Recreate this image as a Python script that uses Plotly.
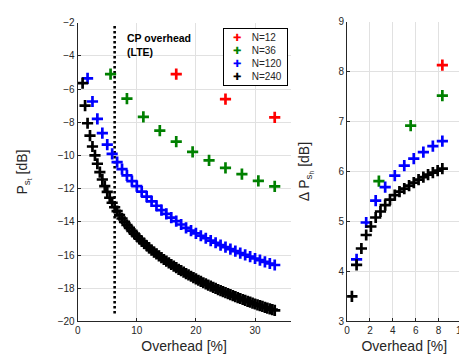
import plotly.graph_objects as go

# ---------------- Left panel data (P_s_t vs overhead) ----------------
x_n12 = [16.67, 25.0, 33.33]
y_n12 = [-5.1, -6.61, -7.71]

x_n36 = [5.56, 8.33, 11.11, 13.89, 16.67, 19.44, 22.22, 25.0, 27.78, 30.56, 33.33]
y_n36 = [-5.1, -6.57, -7.68, -8.5, -9.17, -9.78, -10.3, -10.75, -11.12, -11.53, -11.86]

x_n120 = [1.67, 2.5, 3.33, 4.17, 5.0, 5.83, 6.67, 7.5, 8.33, 9.17,
          10.0, 10.83, 11.67, 12.5, 13.33, 14.17, 15.0, 15.83, 16.67, 17.5,
          18.33, 19.17, 20.0, 20.83, 21.67, 22.5, 23.33, 24.17, 25.0, 25.83,
          26.67, 27.5, 28.33, 29.17, 30.0, 30.83, 31.67, 32.5, 33.33]
y_n120 = [-5.35, -6.75, -7.8, -8.65, -9.35, -9.9, -10.4, -10.82, -11.2, -11.55,
          -11.85, -12.18, -12.48, -12.77, -13.03, -13.29, -13.52, -13.75, -13.96, -14.16,
          -14.36, -14.53, -14.69, -14.84, -14.99, -15.13, -15.26, -15.40, -15.52, -15.65,
          -15.77, -15.88, -15.99, -16.10, -16.21, -16.31, -16.41, -16.51, -16.60]

x_n240 = [0.83, 1.25, 1.67, 2.08, 2.5, 2.92, 3.33, 3.75, 4.17, 4.58,
          5.0, 5.42, 5.83, 6.25, 6.67, 7.08, 7.5, 7.92, 8.33, 8.75,
          9.17, 9.58, 10.0, 10.42, 10.83, 11.25, 11.67, 12.08, 12.5, 12.92,
          13.33, 13.75, 14.17, 14.58, 15.0, 15.42, 15.83, 16.25, 16.67, 17.08,
          17.5, 17.92, 18.33, 18.75, 19.17, 19.58, 20.0, 20.42, 20.83, 21.25,
          21.67, 22.08, 22.5, 22.92, 23.33, 23.75, 24.17, 24.58, 25.0, 25.42,
          25.83, 26.25, 26.67, 27.08, 27.5, 27.92, 28.33, 28.75, 29.17, 29.58,
          30.0, 30.42, 30.83, 31.25, 31.67, 32.08, 32.5, 32.92, 33.33]
y_n240 = [-5.64, -7.0, -8.06, -8.8, -9.46, -10.0, -10.5, -11.0, -11.45, -11.85,
          -12.2, -12.55, -12.85, -13.12, -13.36, -13.59, -13.80, -14.00, -14.19, -14.37,
          -14.54, -14.71, -14.87, -15.02, -15.16, -15.30, -15.44, -15.57, -15.70, -15.82,
          -15.93, -16.05, -16.16, -16.27, -16.37, -16.47, -16.57, -16.67, -16.76, -16.86,
          -16.94, -17.03, -17.12, -17.20, -17.28, -17.36, -17.44, -17.52, -17.59, -17.67,
          -17.74, -17.81, -17.88, -17.95, -18.01, -18.08, -18.14, -18.21, -18.27, -18.33,
          -18.39, -18.45, -18.51, -18.57, -18.62, -18.68, -18.73, -18.79, -18.84, -18.90,
          -18.95, -19.00, -19.05, -19.10, -19.15, -19.20, -19.24, -19.29, -19.34]

# ---------------- Right panel data (Delta P_s_h vs overhead) ----------------
dx_n12 = [8.33]
dy_n12 = [8.13]
dx_n36 = [2.78, 5.56, 8.33]
dy_n36 = [5.81, 6.92, 7.52]
dx_n120 = [0.83, 1.67, 2.5, 3.33, 4.17, 5.0, 5.83, 6.67, 7.5, 8.33]
dy_n120 = [4.24, 4.98, 5.42, 5.69, 5.92, 6.12, 6.26, 6.39, 6.51, 6.61]
dx_n240 = [0.42, 0.83, 1.25, 1.67, 2.08, 2.5, 2.92, 3.33, 3.75, 4.17,
           4.58, 5.0, 5.42, 5.83, 6.25, 6.67, 7.08, 7.5, 7.92, 8.33]
dy_n240 = [3.5, 4.13, 4.46, 4.73, 4.90, 5.08, 5.2, 5.33, 5.44, 5.53,
           5.6, 5.66, 5.72, 5.78, 5.84, 5.89, 5.94, 5.98, 6.02, 6.06]

# LTE CP overhead marker
cp_x = [6.25, 6.25]
cp_y = [-2.2, -19.6]

series_names = ["N=12", "N=36", "N=120", "N=240"]
series_colors = ["#ff0000", "#008000", "#0000ff", "#000000"]

left_x = [x_n12, x_n36, x_n120, x_n240]
left_y = [y_n12, y_n36, y_n120, y_n240]
right_x = [dx_n12, dx_n36, dx_n120, dx_n240]
right_y = [dy_n12, dy_n36, dy_n120, dy_n240]

FONT = "Liberation Sans, Arial, Helvetica, sans-serif"
AX = "#262626"
GRID = "#e1e1e1"

fig = go.Figure()

fig.add_trace(go.Scatter(x=cp_x, y=cp_y, mode="lines",
                         line=dict(color="black", width=2.6, dash="2.5px,2.5px"),
                         showlegend=False, xaxis="x", yaxis="y"))

for name, col, xs, ys in zip(series_names, series_colors, left_x, left_y):
    fig.add_trace(go.Scatter(x=xs, y=ys, mode="markers", name=name,
                             marker=dict(symbol="cross-thin", size=8,
                                         line=dict(color=col, width=2.7)),
                             showlegend=False, xaxis="x", yaxis="y"))

for name, col, xs, ys in zip(series_names, series_colors, right_x, right_y):
    fig.add_trace(go.Scatter(x=xs, y=ys, mode="markers", name=name,
                             marker=dict(symbol="cross-thin", size=8,
                                         line=dict(color=col, width=2.7)),
                             showlegend=False, xaxis="x2", yaxis="y2"))

axis_common = dict(showline=True, linecolor=AX, linewidth=1, mirror=False,
                   showgrid=True, gridcolor=GRID, gridwidth=1, zeroline=False,
                   ticks="inside", ticklen=3, tickcolor=AX,
                   tickfont=dict(family=FONT, size=10, color=AX),
                   title_font=dict(family=FONT, size=14, color=AX))

legend_text = "<br>".join(
    f"&nbsp;&nbsp;<span style='color:{c}'>✚</span>&nbsp;&nbsp;&nbsp;&nbsp;{n}&nbsp;"
    for n, c in zip(series_names, series_colors))

fig.update_layout(
    width=467, height=360,
    margin=dict(l=0, r=0, t=0, b=0),
    paper_bgcolor="white", plot_bgcolor="white",
    font=dict(family=FONT, color=AX),
    xaxis=dict(domain=[68 / 467, 285 / 467], range=[0, 36], tickvals=[0, 10, 20, 30],
               title=dict(text="Overhead [%]", standoff=5), anchor="y", **axis_common),
    yaxis=dict(domain=[42 / 360, 351 / 360], range=[-20, -2], dtick=2,
               title=dict(text="P<sub>s<sub>t</sub></sub> [dB]", standoff=26), anchor="x",
               **axis_common),
    xaxis2=dict(domain=[342.7 / 467, 459.3 / 467], range=[0, 10], dtick=2,
                title=dict(text="Overhead [%]", standoff=5), anchor="y2", **axis_common),
    yaxis2=dict(domain=[42 / 360, 352 / 360], range=[3, 9], dtick=1,
                title=dict(text="Δ P<sub>s<sub>h</sub></sub> [dB]", standoff=25), anchor="x2",
                **axis_common),
    annotations=[
        dict(x=8.0, y=-2.45, xref="x", yref="y", xanchor="left", yanchor="top",
             text="<b>CP overhead<br>(LTE)</b>", showarrow=False, align="left",
             font=dict(family=FONT, size=10.5, color="black")),
        dict(x=282 / 467, y=1 - 14 / 360, xref="paper", yref="paper",
             xanchor="right", yanchor="top", text=legend_text, showarrow=False,
             align="left", bordercolor="black", borderwidth=1, borderpad=3,
             bgcolor="white", font=dict(family=FONT, size=10, color=AX)),
    ],
)

fig.write_html("out.html")
